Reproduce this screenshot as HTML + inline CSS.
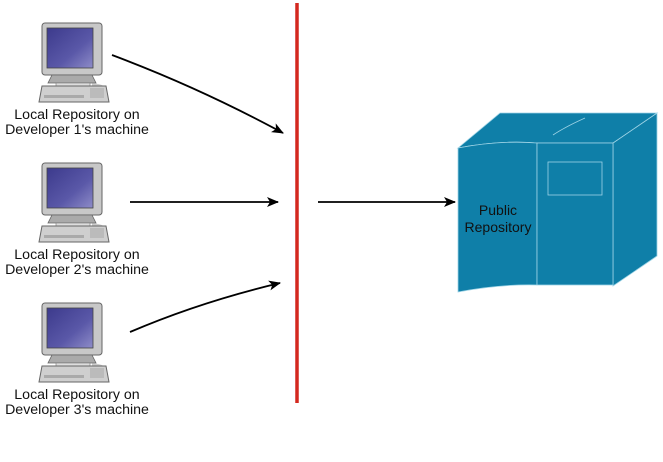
<!DOCTYPE html>
<html><head><meta charset="utf-8"><style>
body{margin:0;background:#fff}
svg text{font-family:"Liberation Sans",sans-serif}
</style></head><body>
<svg width="663" height="457" viewBox="0 0 663 457" xmlns="http://www.w3.org/2000/svg">
<defs>
<linearGradient id="scr" x1="0" y1="0" x2="1" y2="1">
<stop offset="0" stop-color="#3c3a8c"/><stop offset="0.6" stop-color="#5a58a8"/><stop offset="1" stop-color="#8e8cc8"/></linearGradient>
<g id="pc">
<path d="M92 85 q14 0 14 8" stroke="#ccc" stroke-width="3" fill="none"/>
<rect x="42" y="23" width="60" height="52" rx="3" fill="#c8c8c8" stroke="#666" stroke-width="1"/>
<rect x="47" y="28" width="46" height="40" fill="url(#scr)" stroke="#444" stroke-width="0.8"/>
<path d="M52 75 h40 l4 8 h-48 z" fill="#aaa" stroke="#666" stroke-width="0.8"/>
<rect x="56" y="83" width="34" height="4" fill="#ddd" stroke="#777" stroke-width="0.6"/>
<path d="M42 86 h64 l3 16 h-70 z" fill="#cfcfcf" stroke="#666" stroke-width="1"/>
<rect x="44" y="95" width="40" height="3" fill="#aaa"/>
<rect x="90" y="88" width="14" height="10" fill="#bbb"/>
</g>
<marker id="ah" markerWidth="12" markerHeight="10" refX="11" refY="5" orient="auto" markerUnits="userSpaceOnUse">
<path d="M0 0 L12 5 L0 10 L3 5 z" fill="#000"/></marker>
</defs>
<use href="#pc"/>
<use href="#pc" y="140"/>
<use href="#pc" y="280"/>
<g font-size="14.2" text-anchor="middle" fill="#111">
<text x="77" y="119">Local Repository on</text>
<text x="77" y="134">Developer 1's machine</text>
<text x="77" y="259">Local Repository on</text>
<text x="77" y="274">Developer 2's machine</text>
<text x="77" y="399">Local Repository on</text>
<text x="77" y="414">Developer 3's machine</text>
</g>
<line x1="297" y1="3" x2="297" y2="403" stroke="#d4281f" stroke-width="3.5"/>
<g stroke="#000" stroke-width="1.8" fill="none" marker-end="url(#ah)">
<path d="M112 55 Q200 88 283 133"/>
<line x1="130" y1="202" x2="278" y2="202"/>
<path d="M130 332 Q200 302 280 283"/>
<line x1="318" y1="202" x2="455" y2="202"/>
</g>
<g stroke="#9fd4e6" stroke-width="0.8" fill="#0f7fa8">
<path d="M613 143 L657 113 L657 256 L613 286 Z"/>
<path d="M458 148 L500 113 L657 113 L613 143 L537 143 Q500 140 458 148 Z"/>
<path d="M458 148 Q500 140 537 143 L537 285 Q500 284 458 292 Z"/>
<rect x="537" y="143" width="76" height="142"/>
<rect x="548" y="162" width="54" height="33" fill="none"/>
<path d="M553 135 Q565 127 585 118" fill="none"/>
</g>
<g font-size="14" text-anchor="middle" fill="#111">
<text x="498" y="215">Public</text>
<text x="498" y="232">Repository</text>
</g>
</svg>
</body></html>
